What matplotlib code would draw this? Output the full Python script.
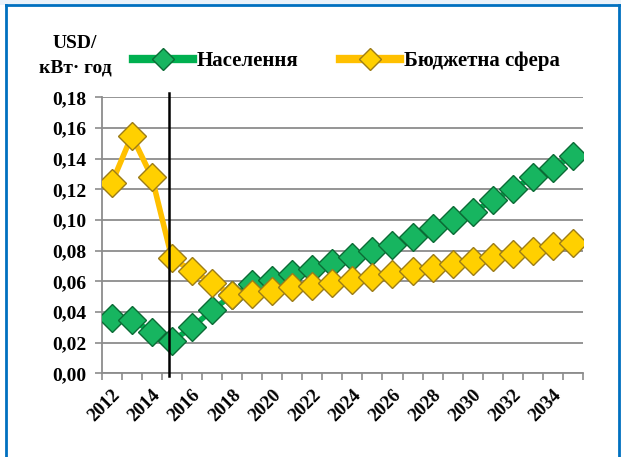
import matplotlib.pyplot as plt
from matplotlib.lines import Line2D
from matplotlib.patches import Rectangle

# data
years = list(range(2012, 2036))
naselennya = [0.036, 0.035, 0.027, 0.021, 0.030, 0.041, 0.051, 0.058, 0.061, 0.065,
              0.068, 0.072, 0.076, 0.080, 0.084, 0.089, 0.095, 0.100, 0.105, 0.113,
              0.120, 0.128, 0.134, 0.142]
budzhet = [0.124, 0.155, 0.128, 0.075, 0.067, 0.059, 0.051, 0.052, 0.054, 0.056,
           0.057, 0.059, 0.061, 0.063, 0.065, 0.067, 0.069, 0.071, 0.073, 0.076,
           0.078, 0.080, 0.083, 0.085]
yticks = [0.00, 0.02, 0.04, 0.06, 0.08, 0.10, 0.12, 0.14, 0.16, 0.18]
divider_pos = 2.86  # vertical line just before 2015

plt.rcParams['font.family'] = 'serif'
plt.rcParams['font.serif'] = ['Liberation Serif', 'Times New Roman', 'DejaVu Serif']
plt.rcParams['font.weight'] = 'bold'

green = '#00b050'
yellow = '#ffc000'
green_mk = dict(marker='D', markerfacecolor='#17b560', markeredgecolor='#0b6b35')
yellow_mk = dict(marker='D', markerfacecolor='#ffd000', markeredgecolor='#9c7c18')

fig = plt.figure(figsize=(6.21, 4.57), dpi=100)

# frame around the picture
fig.patches.append(Rectangle((0, 1 - 5 / 457), 1, 5 / 457, transform=fig.transFigure,
                             facecolor='#eaf2fa', edgecolor='none', zorder=0))
fig.add_artist(Line2D([6 / 621, 6 / 621], [0, 1 - 5 / 457], color='#0070c0', lw=2))
fig.add_artist(Line2D([619 / 621, 619 / 621], [0, 1 - 5 / 457], color='#0070c0', lw=2))
fig.add_artist(Line2D([6 / 621, 619 / 621], [1 - 5 / 457, 1 - 5 / 457], color='#0070c0', lw=2))

ax = fig.add_axes([101.7 / 621, 1 - 373.3 / 457, (583 - 101.7) / 621, (373.3 - 97.3) / 457])

x = list(range(len(years)))
ax.plot(x, naselennya, color=green, lw=4, zorder=3, solid_joinstyle='miter',
        markersize=14, markeredgewidth=1, **green_mk)
ax.plot(x, budzhet, color=yellow, lw=4, zorder=4, solid_joinstyle='miter',
        markersize=14, markeredgewidth=1, **yellow_mk)

ax.plot([divider_pos, divider_pos], [-0.002, 0.183], color='black', lw=1.8,
        clip_on=False, zorder=5)

ax.set_xlim(-0.5, len(years) - 0.5)
ax.set_ylim(0, 0.18)
ax.set_yticks(yticks)
ax.set_yticklabels([f'{v:.2f}'.replace('.', ',') for v in yticks], fontsize=14)
ax.yaxis.grid(True, color='#8c8c8c', lw=1.3)
ax.set_axisbelow(True)

# tick marks on category boundaries, labels under every second category
ax.set_xticks([i - 0.5 for i in range(len(years) + 1)], minor=True)
ax.set_xticks(x[::2])
ax.set_xticklabels([str(y) for y in years[::2]], rotation=45, ha='right', va='top',
                   rotation_mode='anchor', fontsize=13.5)
ax.tick_params(axis='x', which='major', length=0, pad=9.5)
ax.tick_params(axis='x', which='minor', length=5, color='#8c8c8c', width=1.2)
ax.tick_params(axis='y', length=5, color='#8c8c8c', width=1.2, pad=6)

for s in ['top', 'right']:
    ax.spines[s].set_visible(False)
for s in ['left', 'bottom']:
    ax.spines[s].set_color('#8c8c8c')
    ax.spines[s].set_linewidth(1.3)

fig.text(75 / 621, 1 - 44 / 457, 'USD/', ha='center', va='center', fontsize=14)
fig.text(75 / 621, 1 - 68 / 457, 'кВт· год', ha='center', va='center', fontsize=14)

handles = [
    Line2D([], [], color=green, lw=6, markersize=11, **green_mk),
    Line2D([], [], color=yellow, lw=6, markersize=11, **yellow_mk),
]
fig.legend(handles, ['Населення', 'Бюджетна сфера'], loc='center left',
           bbox_to_anchor=(133 / 621, 1 - 61 / 457), ncol=2, frameon=False,
           fontsize=15, handlelength=2.9, handletextpad=0.15, columnspacing=2.0,
           borderpad=0, borderaxespad=0)

fig.savefig('out.png', dpi=100)
